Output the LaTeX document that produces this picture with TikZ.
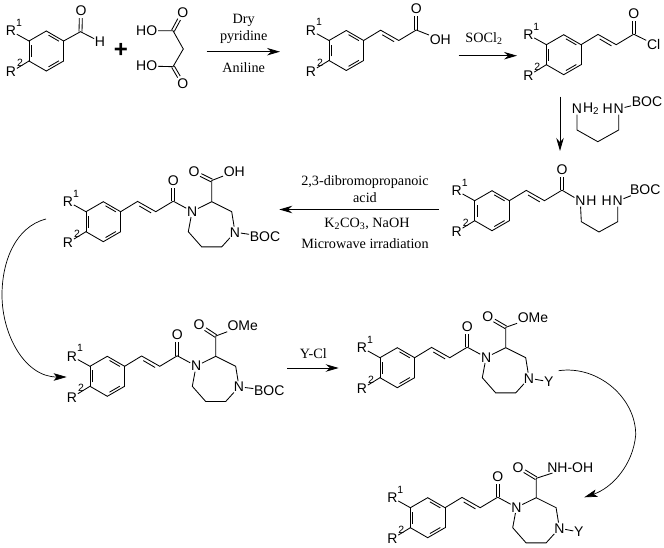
\documentclass[tikz,border=0pt]{standalone}
\usepackage{fontspec}
\setmainfont{Liberation Serif}
\setsansfont{Liberation Sans}
\usetikzlibrary{arrows.meta,positioning,calc}

\newcommand{\dblbond}[2]{
    \coordinate (dbe) at ($(#2)!7.5pt!(#1)$);
    \draw[bond] ($(#1)!1.5pt!90:(dbe)$) -- ($(dbe)!1.5pt!-90:(#1)$);
    \draw[bond] ($(#1)!1.5pt!-90:(dbe)$) -- ($(dbe)!1.5pt!90:(#1)$);
}

\tikzset{
    bond/.style={line width=0.85pt},
    atom/.style={inner sep=0.6pt, font=\fontsize{14}{15}\selectfont\sffamily},
    supnum/.style={inner sep=0pt, font=\fontsize{10.5}{11}\selectfont\sffamily},
    reagent/.style={inner sep=0pt, font=\fontsize{14.2}{16}\selectfont},
    arrow/.style={-{Stealth[length=13pt,width=7.5pt]}, line width=0.85pt},
    curvearrow/.style={-{Stealth[length=13pt,width=7.5pt,inset=3pt]}, line width=0.7pt},
    pics/aryl/.style={code={
        \foreach \a/\b in {-90/-30,-30/30,30/90,90/150,150/210,210/270}
            \draw[bond, line cap=round] (\a:20) -- (\b:20);
        \foreach \a/\b in {-82/-38,38/82,158/202}
            \draw[bond] (\a:16) -- (\b:16);
        \coordinate (-ur) at (-30:20);
        \node[atom] (-r1) at (-35.3,-20) {R};
        \node[supnum] (-s1) at (-27.3,-28.3) {1};
        \node[atom] (-r2) at (-35.3,21) {R};
        \node[supnum] (-s2) at (-26.3,12) {2};
        \draw[bond] (210:20) -- (-r1);
        \draw[bond] (150:20) -- (-r2);
    }},
    pics/cinnamoyl/.style={code={
        \pic (-ar) {aryl};
        \coordinate (-a) at (34.3,-20.3);
        \coordinate (-b) at (52.5,-10);
        \coordinate (-co) at (70,-20.5);
        \node[atom] (-o) at (70,-41.5) {O};
        \draw[bond] (-ar-ur) -- (-a) -- (-b) -- (-co);
        \draw[bond] (36,-15.7) -- (47.8,-8.8);
        \dblbond{-co}{-o}
    }},
    pics/diazepane/.style={code={
        \pic (-cin) {cinnamoyl};
        \node[atom] (-n1) at (88.8,-10.3) {N};
        \coordinate (-c2) at (108.5,-20);
        \coordinate (-c3) at (128.4,-10);
        \node[atom] (-n4) at (131.7,10.5) {N};
        \coordinate (-c5) at (118.4,25.2);
        \coordinate (-c6) at (98.4,25.2);
        \coordinate (-c7) at (85,10);
        \draw[bond] (-cin-co) -- (-n1);
        \draw[bond] (-n1) -- (-c2) -- (-c3) -- (-n4) -- (-c5) -- (-c6) -- (-c7) -- (-n1);
    }}
}

\begin{document}
\begin{tikzpicture}[x=1pt, y=-1pt]
\useasboundingbox (0,0) rectangle (664,548);

% Aldehyde
\pic (ald) at (46.3,51) {aryl};
\coordinate (aldc) at (80.5,31.7);
\node[atom] (aldo) at (81,10.7) {O};
\node[atom] (aldh) at (100,41.7) {H};
\draw[bond] (ald-ur) -- (aldc) -- (aldh);
\dblbond{aldc}{aldo}

\node[inner sep=0pt, font=\fontsize{24}{24}\selectfont\sffamily\bfseries] (plus) at (121,50.5) {+};

% Malonic acid
\node[atom] (mal1) at (146.7,30.7) {HO};
\coordinate (malc1) at (173,30.7);
\node[atom] (malo1) at (182.7,12.7) {O};
\coordinate (malch) at (183.3,49);
\coordinate (malc2) at (173,66.7);
\node[atom] (mal2) at (146.7,66) {HO};
\node[atom] (malo2) at (182.7,83.3) {O};
\draw[bond] (mal1) -- (malc1) -- (malch) -- (malc2) -- (mal2);
\dblbond{malc1}{malo1}
\dblbond{malc2}{malo2}

% Step 1
\coordinate (s1a) at (206.7,51.7);
\coordinate (s1b) at (280,51.7);
\draw[arrow] (s1a) -- (s1b);
\node[reagent] (dry) at (243.7,20.5) {Dry};
\node[reagent] (pyr) at (243.7,37) {pyridine};
\node[reagent] (ani) at (243.7,67.3) {Aniline};

% Acid
\pic (acid) at (346.3,50.5) {cinnamoyl};
\node[atom] (acidoh) at (440.3,39.5) {OH};
\draw[bond] (acid-co) -- (acidoh);

% Step 2
\coordinate (s2a) at (458.7,55.7);
\coordinate (s2b) at (517,55.7);
\draw[arrow] (s2a) -- (s2b);
\node[reagent] (socl) at (484,38.5) {SOCl\textsubscript{2}};

% Acid chloride
\pic (chl) at (563.7,54.7) {cinnamoyl};
\node[atom] (chlcl) at (653.7,44) {Cl};
\draw[bond] (chl-co) -- (chlcl);

% Step 3
\coordinate (s3a) at (560,96.7);
\coordinate (s3b) at (560,151);
\draw[arrow] (s3a) -- (s3b);

% Diamine
\node[atom] (dian1) at (577,109) {N};
\node[atom, right=-0.6pt of dian1] (diah2) {H\textsubscript{2}};
\node[atom] (dian2) at (618.7,109) {N};
\node[atom, left=-0.6pt of dian2] (diah) {H};
\node[atom] (diaboc) at (647,101.7) {BOC};
\coordinate (diac1) at (577,130);
\coordinate (diac2) at (597.8,141.7);
\coordinate (diac3) at (618.7,130);
\draw[bond] (dian1) -- (diac1) -- (diac2) -- (diac3) -- (dian2);
\draw[bond] (dian2) -- (diaboc);

% Amide
\pic (ami) at (492,210.7) {cinnamoyl};
\node[atom] (amin1) at (580.3,201) {N};
\node[atom, right=-0.6pt of amin1] (amih1) {H};
\node[atom] (amin2) at (617.7,201) {N};
\node[atom, left=-0.6pt of amin2] (amih2) {H};
\node[atom] (amiboc) at (645.3,190) {BOC};
\coordinate (amic1) at (581.3,221.7);
\coordinate (amic2) at (599,232);
\coordinate (amic3) at (617.7,221.7);
\draw[bond] (ami-co) -- (amin1);
\draw[bond] (amin1) -- (amic1) -- (amic2) -- (amic3) -- (amin2);
\draw[bond] (amin2) -- (amiboc);

% Step 4
\coordinate (s4a) at (438.7,209.5);
\coordinate (s4b) at (279.3,209.5);
\draw[arrow] (s4a) -- (s4b);
\node[reagent] (dib) at (365,181.7) {2,3-dibromopropanoic};
\node[reagent] (dibacid) at (365,198) {acid};
\node[reagent] (base) at (367,223.5) {K\textsubscript{2}CO\textsubscript{3}, NaOH};
\node[reagent] (mw) at (365,243.3) {Microwave irradiation};

% Carboxylic acid
\pic (car) at (103.3,221.7) {diazepane};
\coordinate (carc) at (211.8,180.5);
\node[atom] (caro) at (194,171.7) {O};
\node[atom] (caroh) at (234.3,171.7) {OH};
\node[atom] (carboc) at (265,236.7) {BOC};
\draw[bond] (car-c2) -- (carc) -- (caroh);
\dblbond{carc}{caro}
\draw[bond] (car-n4) -- (carboc);

% Step 5
\coordinate (s5a) at (46,219);
\coordinate (s5m) at (2,295);
\coordinate (s5b) at (66.7,377);
\draw[curvearrow] (s5a) .. controls (15,227) and (2,262) .. (s5m)
    .. controls (2,335) and (25,377) .. (s5b);

% Methyl ester
\pic (est) at (107.3,376.3) {diazepane};
\coordinate (estc) at (215.8,336);
\node[atom] (esto) at (199,325) {O};
\node[atom] (estome) at (242.7,326) {OMe};
\node[atom] (estboc) at (269.3,390.5) {BOC};
\draw[bond] (est-c2) -- (estc) -- (estome);
\dblbond{estc}{esto}
\draw[bond] (est-n4) -- (estboc);

% Step 6
\coordinate (s6a) at (287.3,368);
\coordinate (s6b) at (338.7,368);
\draw[arrow] (s6a) -- (s6b);
\node[reagent] (ycl) at (313.3,353.3) {Y-Cl};

% Y ester
\pic (yes) at (397.3,367.7) {diazepane};
\coordinate (yesc) at (505.8,327.3);
\node[atom] (yeso) at (487.7,316.7) {O};
\node[atom] (yesome) at (533,317.7) {OMe};
\node[atom] (yesy) at (548.7,381.7) {Y};
\draw[bond] (yes-c2) -- (yesc) -- (yesome);
\dblbond{yesc}{yeso}
\draw[bond] (yes-n4) -- (yesy);

% Step 7
\coordinate (s7a) at (558.7,370.7);
\coordinate (s7m) at (635.7,435);
\coordinate (s7b) at (584.3,497.3);
\draw[curvearrow] (s7a) .. controls (598,365) and (636,398) .. (s7m)
    .. controls (633,465) and (612,488) .. (s7b);

% Hydroxamic acid
\pic (hyd) at (427.7,517.7) {diazepane};
\coordinate (hydc) at (536.2,478.3);
\node[atom] (hydo) at (518,467.3) {O};
\node[atom] (hydnh) at (570.3,467.3) {NH-OH};
\node[atom] (hydy) at (578.7,532) {Y};
\draw[bond] (hyd-c2) -- (hydc) -- (hydnh);
\dblbond{hydc}{hydo}
\draw[bond] (hyd-n4) -- (hydy);

\end{tikzpicture}
\end{document}
